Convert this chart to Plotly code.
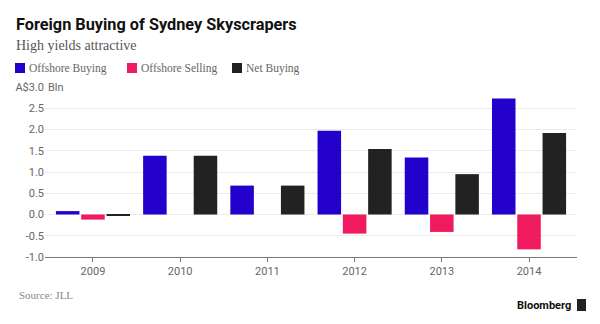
import plotly.graph_objects as go

years = ["2009", "2010", "2011", "2012", "2013", "2014"]
series_names = ["Offshore Buying", "Offshore Selling", "Net Buying"]
offshore_buying = [0.08, 1.38, 0.68, 1.97, 1.34, 2.73]
offshore_selling = [-0.12, 0.0, 0.0, -0.45, -0.41, -0.82]
net_buying = [-0.03, 1.38, 0.68, 1.54, 0.95, 1.92]
colors = ["#2300cc", "#f01a5e", "#222222"]
y_ticks = [-1.0, -0.5, 0.0, 0.5, 1.0, 1.5, 2.0, 2.5, 3.0]
y_ticktext = ["-1.0", "-0.5", "0.0", "0.5", "1.0", "1.5", "2.0", "2.5", "A$3.0"]

W, H = 600, 324
L, R, T, B = 45, 23, 87, 67
pw, ph = W - L - R, H - T - B

def px(x):
    return (x - L) / pw

def py(y):
    return (H - B - y) / ph

fig = go.Figure()
for name, vals, c in zip(series_names, [offshore_buying, offshore_selling, net_buying], colors):
    fig.add_trace(go.Bar(x=years, y=vals, name=name, marker=dict(color=c, line=dict(width=0)),
                         showlegend=False))

sans = "Roboto, Arial, sans-serif"
serif = "Liberation Serif, DejaVu Serif, serif"

fig.update_layout(
    width=W, height=H,
    margin=dict(l=L, r=R, t=T, b=B),
    paper_bgcolor="white", plot_bgcolor="white",
    barmode="group", bargap=0.13, bargroupgap=0.07,
    xaxis=dict(type="category", range=[-0.55, 5.55], showgrid=False,
               showline=True, linecolor="#777777", linewidth=1,
               ticks="outside", ticklen=4, tickcolor="#777777",
               tickfont=dict(family=sans, size=11, color="#666666")),
    yaxis=dict(range=[-1.0, 3.0], tickvals=y_ticks, ticktext=y_ticktext,
               showgrid=True, gridcolor="#ebebeb", gridwidth=1,
               zeroline=False, showline=False, ticks="",
               tickfont=dict(family=sans, size=11, color="#666666")),
    font=dict(family=sans),
)

annotations = [
    dict(text="<b>Foreign Buying of Sydney Skyscrapers</b>", x=px(14), y=py(24), xanchor="left",
         yanchor="middle", font=dict(family=sans, size=16.3, color="#111111")),
    dict(text="High yields attractive", x=px(14), y=py(45), xanchor="left", yanchor="middle",
         font=dict(family=serif, size=14, color="#555555")),
    dict(text="Bln", x=px(46), y=3.0, yref="y", xanchor="left", yanchor="middle",
         bgcolor="white", borderpad=1,
         font=dict(family=sans, size=11, color="#666666")),
    dict(text="Source: JLL", x=px(17), y=py(295), xanchor="left", yanchor="middle",
         font=dict(family=serif, size=11, color="#888888")),
    dict(text="<b>Bloomberg</b>", x=px(573), y=py(305), xanchor="right", yanchor="middle",
         font=dict(family=sans, size=11, color="#111111")),
]
shapes = []
leg_x = [15, 127, 232]
for name, c, lx in zip(series_names, colors, leg_x):
    shapes.append(dict(type="rect", xref="paper", yref="paper",
                       x0=px(lx), x1=px(lx + 10), y0=py(63), y1=py(73),
                       fillcolor=c, line=dict(width=0)))
    annotations.append(dict(text=name, x=px(lx + 12), y=py(68), xanchor="left", yanchor="middle",
                            font=dict(family=serif, size=11.5, color="#666666")))
# logo icon
shapes.append(dict(type="rect", xref="paper", yref="paper", x0=px(577), x1=px(586),
                   y0=py(311), y1=py(299), fillcolor="#222222", line=dict(width=0)))
for a in annotations:
    a.setdefault("xref", "paper")
    a.setdefault("yref", "paper")
    a["showarrow"] = False
fig.update_layout(annotations=annotations, shapes=shapes)

fig.write_html("out.html")
